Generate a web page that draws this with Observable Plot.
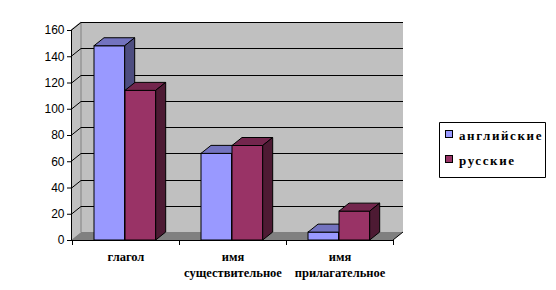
<!DOCTYPE html>
<html><head><meta charset="utf-8">
<script src="https://cdn.jsdelivr.net/npm/d3@7"></script>
<script src="https://cdn.jsdelivr.net/npm/@observablehq/plot@0.6"></script>
<style>body{margin:0;background:#fff}#chart svg{display:block}</style>
</head><body><div id="chart"></div>
<script>
const categories = ["глагол", "имя существительное", "имя прилагательное"];
const seriesNames = ["английские", "русские"];
const english = [148, 66, 6];
const russian = [114, 72, 22];
const yTicks = [0, 20, 40, 60, 80, 100, 120, 140, 160];
const colors = ["#9999ff", "#993366"];

const data = categories.flatMap((c, i) => [
  {category: c, series: seriesNames[0], value: english[i]},
  {category: c, series: seriesNames[1], value: russian[i]}
]);

const DX = 10, DY = -8;
const shade = (c, k) => { const r = d3.rgb(c); return d3.rgb(r.r * k, r.g * k, r.b * k).formatHex(); };
const pts = a => a.map(p => p.join(",")).join(" ");

function background(index, scales, values, dims) {
  const y = scales.y;
  const x0 = dims.marginLeft, x1 = dims.width - dims.marginRight;
  const y0 = y(0), yT = y(yTicks[yTicks.length - 1]);
  const g = d3.create("svg:g");
  g.append("rect").attr("x", x0 + DX).attr("y", yT + DY).attr("width", x1 - x0).attr("height", y0 - yT).attr("fill", "#c0c0c0");
  g.append("polygon").attr("points", pts([[x0, y0], [x0, yT], [x0 + DX, yT + DY], [x0 + DX, y0 + DY]])).attr("fill", "#c0c0c0");
  g.append("polyline").attr("points", pts([[x0, yT], [x0 + DX, yT + DY], [x0 + DX, y0 + DY]])).attr("fill", "none").attr("stroke", "#808080");
  g.append("polygon").attr("points", pts([[x0, y0], [x1, y0], [x1 + DX, y0 + DY], [x0 + DX, y0 + DY]])).attr("fill", "#808080");
  for (const t of yTicks.slice(1)) {
    const yy = Math.round(y(t)) + 0.5;
    g.append("polyline").attr("points", pts([[x0, yy], [x0 + DX, yy + DY], [x1 + DX, yy + DY]])).attr("fill", "none").attr("stroke", "black");
  }
  g.append("line").attr("x1", x1).attr("y1", y0).attr("x2", x1 + DX).attr("y2", y0 + DY).attr("stroke", "black");
  g.append("line").attr("x1", x0 + 0.5).attr("x2", x0 + 0.5).attr("y1", yT).attr("y2", y0).attr("stroke", "black");
  g.append("line").attr("x1", x0).attr("x2", x1).attr("y1", y0 + 0.5).attr("y2", y0 + 0.5).attr("stroke", "black");
  const bw = scales.x.bandwidth();
  const bounds = [scales.x(categories[0]), ...categories.map(c => scales.x(c) + bw)];
  for (const b of bounds) {
    const bx = Math.round(b) + 0.5;
    g.append("line").attr("x1", bx).attr("x2", bx).attr("y1", y0).attr("y2", y0 + 5).attr("stroke", "black");
  }
  return g.node();
}

function bar3d(si, insetLeft, insetRight) {
  const color = colors[si];
  return Plot.barY(data.filter(d => d.series === seriesNames[si]), {
    x: "category", y: "value", fill: color, stroke: "black", strokeWidth: 1,
    insetLeft, insetRight,
    render(index, scales, values, dims, context, next) {
      const g = next(index, scales, values, dims, context);
      const rects = Array.from(g.querySelectorAll("rect"));
      for (const r of rects) {
        const x = +r.getAttribute("x"), y = +r.getAttribute("y");
        const w = +r.getAttribute("width"), h = +r.getAttribute("height");
        const top = document.createElementNS("http://www.w3.org/2000/svg", "polygon");
        top.setAttribute("points", pts([[x, y], [x + w, y], [x + w + DX, y + DY], [x + DX, y + DY]]));
        top.setAttribute("fill", shade(color, 0.75));
        top.setAttribute("stroke", "black");
        g.appendChild(top);
        const side = document.createElementNS("http://www.w3.org/2000/svg", "polygon");
        side.setAttribute("points", pts([[x + w, y], [x + w + DX, y + DY], [x + w + DX, y + h + DY], [x + w, y + h]]));
        side.setAttribute("fill", shade(color, 0.5));
        side.setAttribute("stroke", "black");
        g.appendChild(side);
      }
      return g;
    }
  });
}

function legendMark(index, scales, values, dims) {
  const g = d3.create("svg:g");
  g.append("path").attr("d", "M439.5,122.5H545.5V177.5H439.5Z").attr("fill", "white").attr("stroke", "black");
  seriesNames.forEach((s, i) => {
    const yy = 130.5 + i * 25;
    g.append("rect").attr("x", 445.5).attr("y", yy).attr("width", 7).attr("height", 7).attr("fill", colors[i]).attr("stroke", "black");
    g.append("text").attr("x", 459).attr("y", yy + 9).text(s)
      .attr("font-family", "Liberation Serif").attr("font-weight", "bold").attr("font-size", 13)
      .attr("letter-spacing", 1.6).attr("text-anchor", "start").attr("fill", "black");
  });
  return g.node();
}

const chart = Plot.plot({
  width: 556, height: 290,
  marginLeft: 71, marginRight: 163, marginTop: 30, marginBottom: 50,
  style: {fontFamily: "Liberation Serif", fontSize: "12px", background: "white", color: "black"},
  x: {domain: categories, padding: 0, axis: null},
  y: {domain: [0, 160], axis: null},
  marks: [
    background,
    bar3d(0, 22, 54.3),
    bar3d(1, 53, 23.3),
    Plot.axisY({ticks: yTicks, tickSize: 4, tickPadding: 3, fontSize: 12, fontFamily: "Liberation Sans", label: null, fill: "black", stroke: "black"}),
    Plot.axisX({tickSize: 0, tickPadding: 9, label: null, tickFormat: d => d.replace(" ", "\n"),
      fontFamily: "Liberation Serif", fontWeight: "bold", fontSize: 12.5, lineHeight: 1.3, fill: "black"}),
    legendMark
  ]
});
document.getElementById("chart").appendChild(chart);
</script>
</body></html>
